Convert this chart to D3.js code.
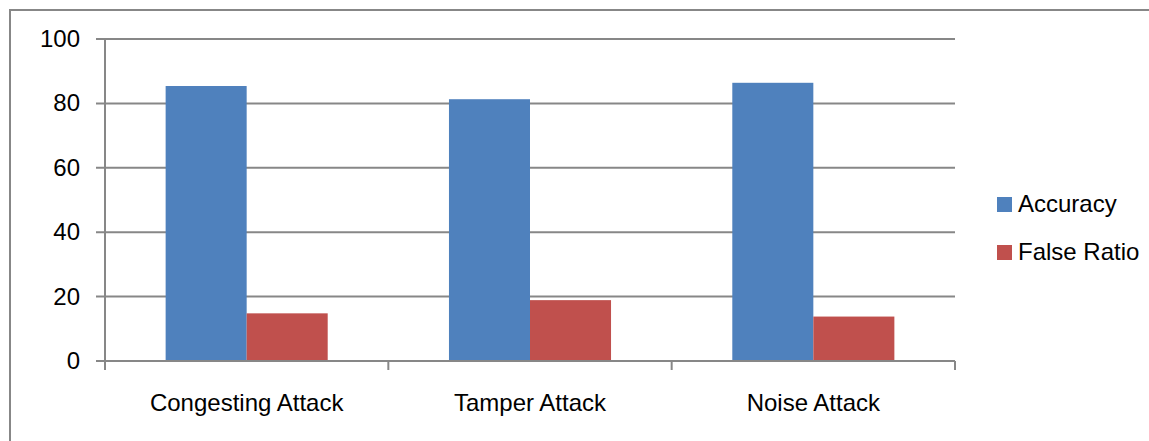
<!DOCTYPE html>
<html>

<head>
    <title>Attack Detection</title>
    <script src="https://d3js.org/d3.v7.min.js"></script>
    <style>
        body { margin: 0; background: #fff; }
        text { font-family: "Liberation Sans", Arial, sans-serif; fill: #000; }
    </style>
</head>

<body>

    <svg width="1149" height="441" id="mainSvg"></svg>
    <script>

        const categories = ["Congesting Attack", "Tamper Attack", "Noise Attack"];
        const seriesNames = ["Accuracy", "False Ratio"];
        const accuracy = [85.4, 81.3, 86.4];
        const falseRatio = [14.8, 18.9, 13.8];
        const yTicks = [0, 20, 40, 60, 80, 100];
        const colors = ["#4f81bd", "#c0504d"];

        const mainSvg = d3.select("#mainSvg");
        const grey = "#878787";

        // outer chart frame (runs off the right / bottom edge)
        mainSvg.append("path")
            .attr("d", "M10,441 L10,10 L1149,10")
            .attr("fill", "none")
            .attr("stroke", grey)
            .attr("stroke-width", 2);

        const x = d3.scaleBand().domain(categories).range([105, 955]);
        const y = d3.scaleLinear().domain([0, 100]).range([361, 39]);

        const g = mainSvg.append("g");

        // horizontal gridlines + y ticks
        g.selectAll(".grid").data(yTicks).join("line")
            .attr("class", "grid")
            .attr("x1", 96).attr("x2", 955)
            .attr("y1", d => y(d)).attr("y2", d => y(d))
            .attr("stroke", grey)
            .attr("stroke-width", 2);

        g.selectAll(".ylab").data(yTicks).join("text")
            .attr("class", "ylab")
            .attr("x", 80)
            .attr("y", d => y(d) + 8)
            .attr("text-anchor", "end")
            .attr("font-size", 24)
            .text(d => d);

        // y axis line
        g.append("line")
            .attr("x1", 105).attr("x2", 105)
            .attr("y1", y(100)).attr("y2", 370)
            .attr("stroke", grey).attr("stroke-width", 2);

        // category boundary ticks
        const bounds = categories.map(c => x(c) + x.bandwidth()).concat([x(categories[0])]);
        g.selectAll(".xtick").data(bounds).join("line")
            .attr("class", "xtick")
            .attr("x1", d => d).attr("x2", d => d)
            .attr("y1", y(0)).attr("y2", 370)
            .attr("stroke", grey).attr("stroke-width", 2);

        // bars
        const barW = x.bandwidth() * 0.286;
        const series = [accuracy, falseRatio];
        series.forEach((vals, si) => {
            g.selectAll(".bar" + si).data(vals).join("rect")
                .attr("class", "bar" + si)
                .attr("x", (d, i) => x(categories[i]) + x.bandwidth() / 2 - barW + si * barW)
                .attr("y", d => y(d))
                .attr("width", barW)
                .attr("height", d => y(0) - y(d))
                .attr("fill", colors[si]);
        });

        // redraw baseline over bars
        g.append("line")
            .attr("x1", 96).attr("x2", 955)
            .attr("y1", y(0)).attr("y2", y(0))
            .attr("stroke", grey).attr("stroke-width", 2);

        // category labels
        g.selectAll(".xlab").data(categories).join("text")
            .attr("class", "xlab")
            .attr("x", d => x(d) + x.bandwidth() / 2)
            .attr("y", 411)
            .attr("text-anchor", "middle")
            .attr("font-size", 24)
            .text(d => d);

        // legend
        const legend = mainSvg.append("g").selectAll("g").data(seriesNames).join("g")
            .attr("transform", (d, i) => `translate(997, ${197 + i * 48})`);
        legend.append("rect")
            .attr("width", 15).attr("height", 15)
            .attr("fill", (d, i) => colors[i]);
        legend.append("text")
            .attr("x", 21).attr("y", 15)
            .attr("font-size", 24)
            .text(d => d);

    </script>
</body>

</html>
